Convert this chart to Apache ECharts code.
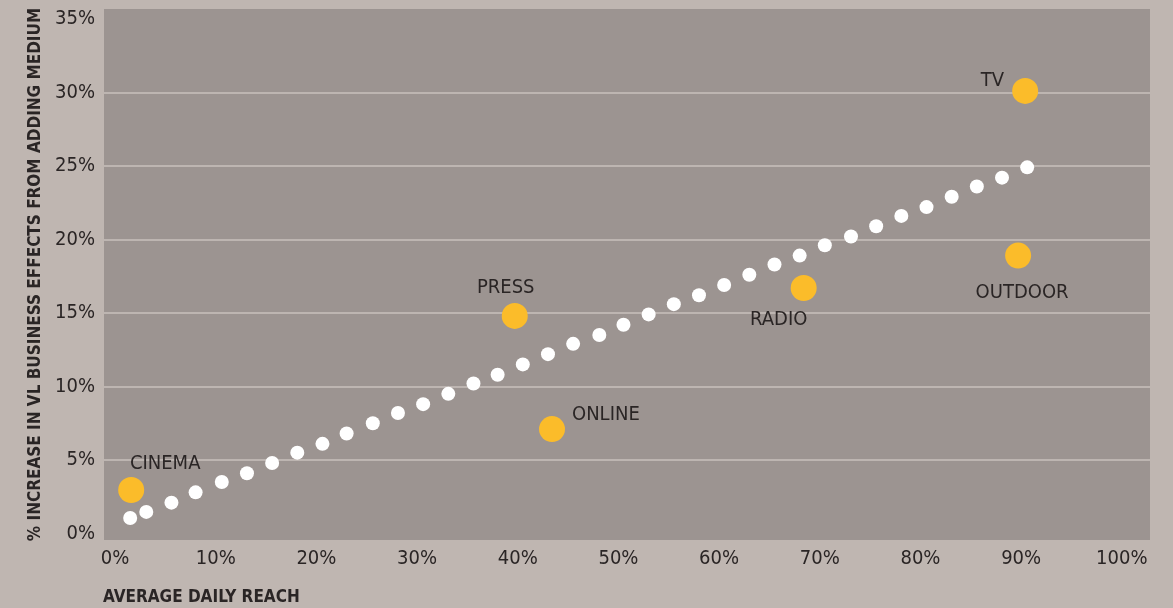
<!DOCTYPE html>
<html>
<head>
<meta charset="utf-8">
<title>Reach vs business effects</title>
<script src="https://cdn.jsdelivr.net/npm/echarts@6/dist/echarts.min.js"></script>
<style>
    html, body { margin: 0; padding: 0; background: #bfb6b1; }
    #chart { width: 1173px; height: 608px; }
</style>
</head>
<body>
<div id="chart"></div>
<script>
// trend dots (x = average daily reach %, y = % increase)
const trendX = [1.5, 3.1, 5.6, 8.0, 10.6, 13.1, 15.6, 18.1, 20.6, 23.0, 25.6, 28.1, 30.6,
    33.1, 35.6, 38.0, 40.5, 43.0, 45.5, 48.1, 50.5, 53.0, 55.5, 58.0, 60.5, 63.0, 65.5,
    68.0, 70.5, 73.1, 75.6, 78.1, 80.6, 83.1, 85.6, 88.1, 90.6];
const trendY = [1.06, 1.47, 2.1, 2.8, 3.5, 4.1, 4.8, 5.5, 6.1, 6.8, 7.5, 8.2, 8.8,
    9.5, 10.2, 10.8, 11.5, 12.2, 12.9, 13.5, 14.2, 14.9, 15.6, 16.2, 16.9, 17.6, 18.3,
    18.9, 19.6, 20.2, 20.9, 21.6, 22.2, 22.9, 23.6, 24.2, 24.9];

// media
const mediaNames = ['CINEMA', 'PRESS', 'ONLINE', 'RADIO', 'TV', 'OUTDOOR'];
const mediaReach = [1.6, 39.7, 43.4, 68.4, 90.4, 89.7];
const mediaEffect = [2.96, 14.8, 7.1, 16.7, 30.1, 18.9];

// ticks
const xTicks = [0, 10, 20, 30, 40, 50, 60, 70, 80, 90, 100];
const yTicks = [0, 5, 10, 15, 20, 25, 30, 35];

// where each label sits relative to its dot
const labelPlace = {
    CINEMA: { position: 'top', offset: [34, 2] },
    PRESS: { position: 'top', offset: [-9, 0] },
    ONLINE: { position: 'right', offset: [2, -14] },
    RADIO: { position: 'bottom', offset: [-25, 4] },
    TV: { position: 'left', offset: [-3, -10] },
    OUTDOOR: { position: 'bottom', offset: [4, 9] }
};

const FONT = 'DejaVu Sans Condensed';
const TEXT = '#2a2525';

const chart = echarts.init(document.getElementById('chart'));

const trendData = trendX.map((x, i) => [x, trendY[i]]);
const mediaData = mediaNames.map((n, i) => ({
    name: n,
    value: [mediaReach[i], mediaEffect[i]],
    label: {
        show: true,
        formatter: n,
        position: labelPlace[n].position,
        offset: labelPlace[n].offset,
        color: TEXT,
        fontFamily: FONT,
        fontSize: 20
    }
}));

// gridlines only between 5% and 30%
const gridColors = yTicks.map(v => (v === 0 || v === 35) ? 'rgba(0,0,0,0)' : '#c9c0bc');

chart.setOption({
    backgroundColor: '#bfb6b1',
    animation: false,
    title: {
        text: 'AVERAGE DAILY REACH',
        left: 98,
        top: 584,
        textStyle: { fontFamily: FONT, fontWeight: 'bold', fontSize: 17, color: TEXT }
    },
    grid: {
        left: 104,
        right: 23,
        top: 9,
        bottom: 68,
        show: true,
        backgroundColor: '#9c9491',
        borderWidth: 0
    },
    xAxis: {
        type: 'value',
        min: -1.1,
        max: 102.8,
        axisLine: { show: false },
        axisTick: { show: false, customValues: xTicks },
        splitLine: { show: false },
        axisLabel: {
            customValues: xTicks,
            formatter: '{value}%',
            margin: 9,
            color: TEXT,
            fontFamily: FONT,
            fontSize: 20
        }
    },
    yAxis: {
        type: 'value',
        min: -0.44,
        max: 35.67,
        name: '% INCREASE IN VL BUSINESS EFFECTS FROM ADDING MEDIUM',
        nameLocation: 'middle',
        nameRotate: 90,
        nameGap: 53,
        nameTextStyle: { fontFamily: FONT, fontWeight: 'bold', fontSize: 17, color: TEXT },
        axisLine: { show: false },
        axisTick: { show: false, customValues: yTicks },
        splitLine: { show: true, lineStyle: { color: gridColors, width: 1.5 } },
        axisLabel: {
            customValues: yTicks,
            formatter: '{value}%',
            margin: 9,
            color: TEXT,
            fontFamily: FONT,
            fontSize: 20
        }
    },
    series: [
        {
            name: 'trend',
            type: 'scatter',
            data: trendData,
            symbolSize: 14,
            itemStyle: { color: '#ffffff', opacity: 1 },
            silent: true
        },
        {
            name: 'media',
            type: 'scatter',
            data: mediaData,
            symbolSize: 26,
            itemStyle: { color: '#fbbc2a', opacity: 1 }
        }
    ]
});
</script>
</body>
</html>
